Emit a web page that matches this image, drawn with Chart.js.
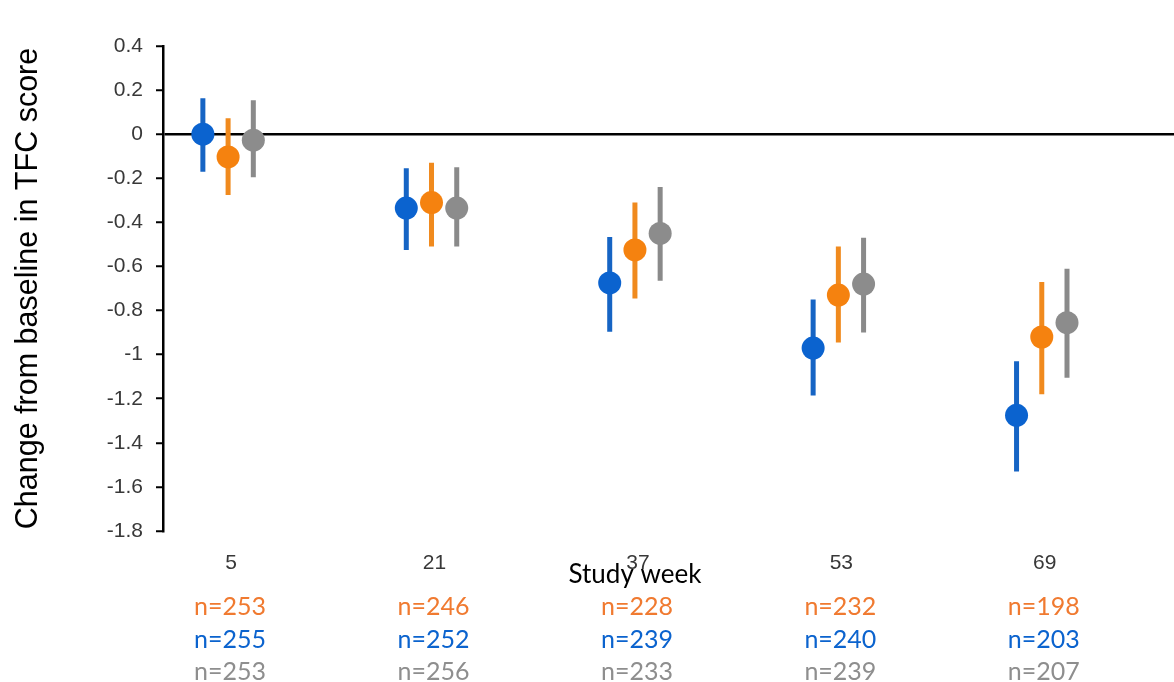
<!DOCTYPE html>
<html>
<head>
<meta charset="utf-8">
<script src="https://cdn.jsdelivr.net/npm/chart.js@4.4.1/dist/chart.umd.min.js"></script>
<style>
  html, body { margin: 0; padding: 0; background: #ffffff; }
  #wrap { position: relative; width: 1174px; height: 682px; }
</style>
</head>
<body>
<div id="wrap"><canvas id="c" width="1174" height="682"></canvas></div>
<script>
// ---- data ----
const weeks = ['5', '21', '37', '53', '69'];
const xTitle = 'Study week';
const yTitle = 'Change from baseline in TFC score';
const yTicks = [0.4, 0.2, 0, -0.2, -0.4, -0.6, -0.8, -1, -1.2, -1.4, -1.6, -1.8];

const blueMean  = [0.00, -0.335, -0.675, -0.97, -1.275];
const blueLow   = [-0.17, -0.525, -0.896, -1.185, -1.53];
const blueHigh  = [0.163, -0.155, -0.466, -0.75, -1.03];

const orangeMean = [-0.103, -0.31, -0.525, -0.73, -0.92];
const orangeLow  = [-0.276, -0.51, -0.745, -0.945, -1.18];
const orangeHigh = [0.072, -0.13, -0.31, -0.51, -0.67];

const grayMean = [-0.027, -0.335, -0.45, -0.68, -0.855];
const grayLow  = [-0.195, -0.51, -0.665, -0.90, -1.105];
const grayHigh = [0.154, -0.15, -0.24, -0.47, -0.61];

const nOrange = [253, 246, 228, 232, 198];
const nBlue   = [255, 252, 239, 240, 203];
const nGray   = [253, 256, 233, 239, 207];

// ---- styling ----
const BLUE = '#0B63CF', ORANGE = '#F5820F', GRAY = '#8C8C8C';
const NBLUE = '#0B63CE', NORANGE = '#F07A30', NGRAY = '#8E8E8E';
const OFF = 0.124;

function dots(mean, off) {
  return mean.map((v, i) => ({ x: i + off, y: v }));
}
function bars(lo, hi, off) {
  const out = [];
  lo.forEach((v, i) => {
    out.push({ x: i + off, y: v });
    out.push({ x: i + off, y: hi[i] });
    out.push({ x: i + off, y: null });
  });
  return out;
}
function barDs(lo, hi, off, color, order) {
  return { type: 'line', data: bars(lo, hi, off), borderColor: color, borderWidth: 5,
           borderCapStyle: 'butt', pointRadius: 0, spanGaps: false, order: order };
}
function dotDs(mean, off, color, order) {
  return { type: 'scatter', data: dots(mean, off), backgroundColor: color, borderWidth: 0,
           pointRadius: 11.5, pointHoverRadius: 11.5, order: order };
}

const textPlugin = {
  id: 'extraText',
  afterDraw(chart) {
    const ctx = chart.ctx;
    const xs = chart.scales.x;
    ctx.save();
    ctx.textAlign = 'center';
    ctx.textBaseline = 'middle';
    // x-axis title
    ctx.font = '26px Lato, "Noto Sans", sans-serif';
    ctx.fillStyle = '#000000';
    ctx.fillText(xTitle, xs.getPixelForValue(2), 575);
    // n rows
    ctx.font = '25px Lato, "Noto Sans", sans-serif';
    const rows = [[nOrange, NORANGE, 607], [nBlue, NBLUE, 640], [nGray, NGRAY, 672]];
    rows.forEach(([arr, col, y]) => {
      ctx.fillStyle = col;
      arr.forEach((n, i) => {
        ctx.fillText('n=' + n, xs.getPixelForValue(i) + 2, y);
      });
    });
    ctx.restore();
  }
};

new Chart(document.getElementById('c'), {
  data: {
    datasets: [
      dotDs(grayMean, OFF, GRAY, 0),
      dotDs(orangeMean, 0, ORANGE, 1),
      dotDs(blueMean, -OFF, BLUE, 2),
      barDs(grayLow, grayHigh, OFF, '#8A8A8A', 3),
      barDs(orangeLow, orangeHigh, 0, '#F08A1E', 4),
      barDs(blueLow, blueHigh, -OFF, '#1664C4', 5)
    ]
  },
  options: {
    responsive: false,
    animation: false,
    events: [],
    layout: { autoPadding: false, padding: { top: 46, right: 0, bottom: 0, left: 0 } },
    plugins: { legend: { display: false }, tooltip: { enabled: false } },
    scales: {
      x: {
        type: 'linear',
        min: -0.32,
        max: 4.65,
        afterBuildTicks: (s) => { s.ticks = weeks.map((w, i) => ({ value: i })); },
        afterFit: (s) => { s.height = 151; },
        grid: { display: false, drawTicks: false },
        border: { display: false },
        ticks: {
          padding: 20,
          labelOffset: 3,
          color: '#383838',
          font: { family: '"Liberation Sans", Arial, sans-serif', size: 21 },
          callback: (v) => weeks[v]
        },
        title: { display: false }
      },
      y: {
        min: -1.8,
        max: 0.4,
        afterBuildTicks: (s) => { s.ticks = yTicks.map(v => ({ value: v })); },
        afterFit: (s) => { s.width = 163; },
        grid: {
          drawOnChartArea: true,
          drawTicks: true,
          tickLength: 7,
          tickColor: '#000000',
          tickWidth: 2,
          lineWidth: 2.5,
          color: (c) => (c.tick && Math.abs(c.tick.value) < 1e-9) ? '#000000' : 'rgba(0,0,0,0)'
        },
        border: { display: true, color: '#000000', width: 2.5 },
        ticks: {
          padding: 13,
          color: '#383838',
          font: { family: '"Liberation Sans", Arial, sans-serif', size: 21 },
          callback: (v) => String(Number(v.toFixed(1)))
        },
        title: {
          display: true,
          text: yTitle,
          color: '#000000',
          font: { family: '"Liberation Sans", Arial, sans-serif', size: 30.5 },
          padding: { top: 10, bottom: 0 }
        }
      }
    }
  },
  plugins: [textPlugin]
});
</script>
</body>
</html>
